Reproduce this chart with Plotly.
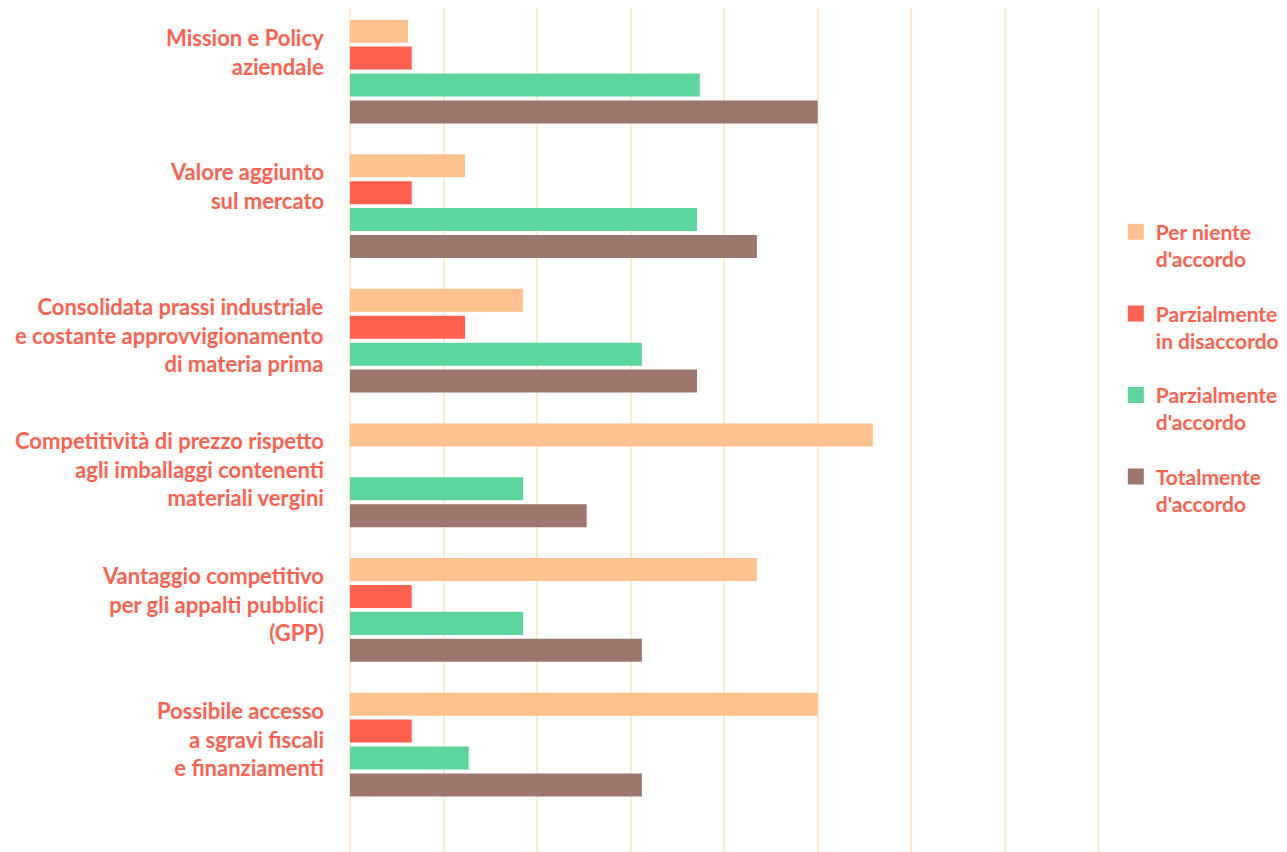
import plotly.graph_objects as go

# categories, top to bottom
categories = [
    "Mission e Policy<br>aziendale",
    "Valore aggiunto<br>sul mercato",
    "Consolidata prassi industriale<br>e costante approvvigionamento<br>di materia prima",
    "Competitività di prezzo rispetto<br>agli imballaggi contenenti<br>materiali vergini",
    "Vantaggio competitivo<br>per gli appalti pubblici<br>(GPP)",
    "Possibile accesso<br>a sgravi fiscali<br>e finanziamenti",
]

series_names = [
    "Per niente<br>d'accordo",
    "Parzialmente<br>in disaccordo",
    "Parzialmente<br>d'accordo",
    "Totalmente<br>d'accordo",
]

# percentages of answers
per_niente = [6.2, 12.3, 18.5, 55.9, 43.5, 50.0]
parz_disaccordo = [6.6, 6.6, 12.3, 0, 6.6, 6.6]
parz_accordo = [37.4, 37.1, 31.2, 18.5, 18.5, 12.7]
totalmente = [50.0, 43.5, 37.1, 25.3, 31.2, 31.2]

colors = ["#ffc28f", "#ff5f4d", "#5dd69d", "#9d776d"]
text_color = "#ff614f"
grid_color = "#fdebcc"
font_family = "Lato"

fig = go.Figure()

for vals, name, col in zip([per_niente, parz_disaccordo, parz_accordo, totalmente],
                           series_names, colors):
    fig.add_trace(go.Bar(
        x=vals, y=categories, orientation="h", name=name,
        marker=dict(color=col, line=dict(width=0)),
        showlegend=False,
    ))

# legend entries with bigger square symbols
for i, (name, col) in enumerate(zip(series_names, colors)):
    fig.add_trace(go.Scatter(
        x=[None], y=[None], mode="markers", name=name,
        legendgroup="g%d" % i,
        marker=dict(symbol="square", size=16, color=col),
    ))

# category labels, anchored at the top of each bar group
for cat in categories:
    fig.add_annotation(
        x=0, xref="paper", y=cat, yref="y",
        text=cat, showarrow=False,
        xanchor="right", yanchor="top", align="right",
        xshift=-24, yshift=50,
        font=dict(family=font_family, size=22, color=text_color, weight="bold"),
    )

fig.update_layout(
    width=1287, height=852,
    margin=dict(l=342, r=192, t=0, b=0),
    plot_bgcolor="white", paper_bgcolor="white",
    barmode="group", bargap=0.2, bargroupgap=0.145,
    font=dict(family=font_family, color=text_color),
    legend=dict(
        x=1.017, y=0.761, xanchor="left", yanchor="top",
        font=dict(family=font_family, size=21, color=text_color, weight="bold"),
        itemsizing="trace", valign="top", tracegroupgap=24,
    ),
    xaxis=dict(
        range=[0, 80.5], dtick=10, showticklabels=False, ticks="",
        showgrid=True, gridcolor=grid_color, gridwidth=2,
        zeroline=True, zerolinecolor=grid_color, zerolinewidth=2,
        showline=False, fixedrange=True,
    ),
    yaxis=dict(
        range=[5.858, -0.472], showticklabels=False, ticks="",
        showgrid=False, zeroline=False, showline=False, fixedrange=True,
    ),
)

fig.write_html("out.html")
